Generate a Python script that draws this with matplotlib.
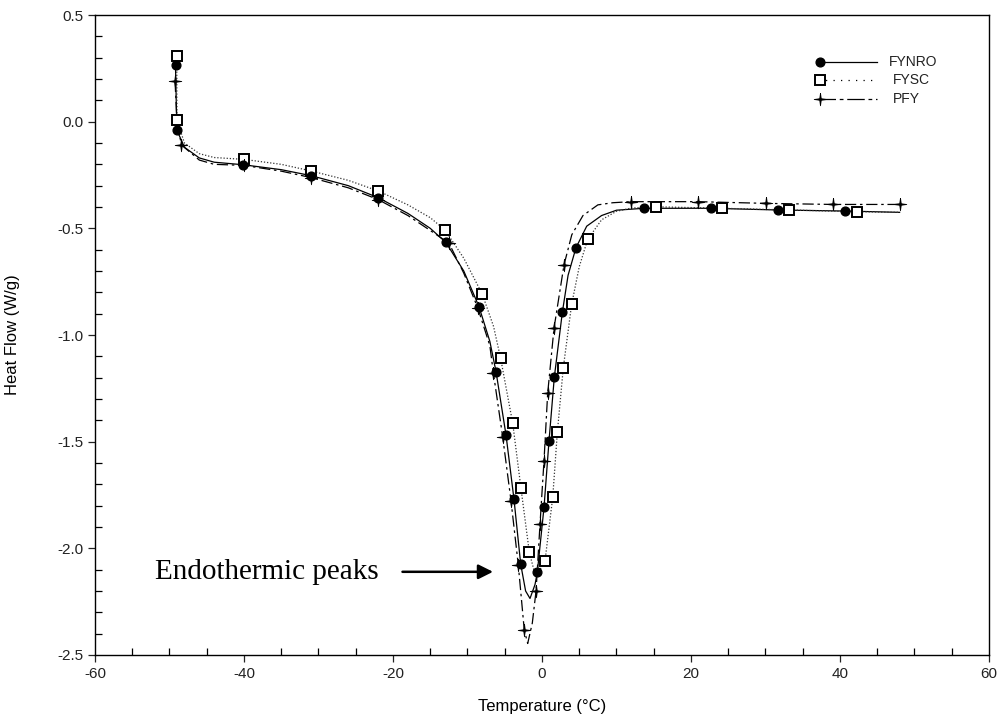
import matplotlib
matplotlib.use("Agg")
import matplotlib.pyplot as plt
from matplotlib.lines import Line2D

plt.rcParams["axes.unicode_minus"] = False

# Curve traces (temperature in degC, heat flow in W/g)
FYNRO_T = [-49.2, -49.1, -49.0, -48.0, -46.0, -44.0, -40.1, -35.0, -31.0, -26.0,
           -22.0, -18.0, -15.0, -12.9, -10.5, -8.46, -7.0, -6.17, -4.83, -3.76,
           -2.86, -2.2, -1.61, -0.94, -0.63, 0.27, 0.94, 1.65, 2.73, 3.5,
           4.56, 6.0, 8.0, 10.0, 13.7, 22.7, 31.7, 40.7, 48.0]
FYNRO_H = [0.27, 0.10, -0.04, -0.12, -0.17, -0.19, -0.202, -0.225, -0.253, -0.30,
           -0.356, -0.43, -0.50, -0.566, -0.70, -0.867, -1.03, -1.172, -1.469, -1.77,
           -2.074, -2.20, -2.235, -2.17, -2.113, -1.808, -1.497, -1.199, -0.894, -0.72,
           -0.591, -0.49, -0.44, -0.415, -0.406, -0.406, -0.414, -0.419, -0.425]

FYSC_T = [-49.03, -49.0, -48.0, -46.0, -44.0, -39.96, -35.0, -31.0, -26.0, -21.97,
          -18.0, -15.0, -13.02, -10.5, -8.01, -6.5, -5.55, -3.93, -2.82, -1.7,
          -1.1, -0.6, 0.4, 1.44, 2.06, 2.86, 3.98, 5.0, 6.13, 8.0,
          10.0, 12.0, 15.26, 24.2, 33.2, 42.23, 48.0]
FYSC_H = [0.308, 0.008, -0.10, -0.15, -0.168, -0.177, -0.20, -0.231, -0.275, -0.325,
          -0.39, -0.45, -0.508, -0.64, -0.809, -0.96, -1.11, -1.414, -1.719, -2.019,
          -2.10, -2.12, -2.06, -1.761, -1.456, -1.153, -0.856, -0.68, -0.552, -0.46,
          -0.42, -0.405, -0.399, -0.406, -0.414, -0.422, -0.425]

PFY_T = [-49.26, -49.0, -48.4, -46.0, -44.0, -40.0, -35.0, -31.0, -26.0, -22.0,
         -18.0, -15.0, -12.48, -10.5, -8.6, -7.0, -6.53, -5.28, -4.16, -3.18,
         -2.38, -1.92, -1.3, -0.8, -0.27, 0.27, 0.76, 1.61, 2.95, 4.0,
         5.5, 7.5, 9.5, 11.9, 21.0, 30.07, 39.0, 48.05]
PFY_H = [0.192, 0.0, -0.109, -0.18, -0.20, -0.205, -0.232, -0.262, -0.31, -0.365,
         -0.44, -0.51, -0.57, -0.71, -0.875, -1.05, -1.177, -1.477, -1.777, -2.079,
         -2.383, -2.446, -2.35, -2.2, -1.888, -1.589, -1.274, -0.969, -0.672, -0.53,
         -0.44, -0.39, -0.38, -0.375, -0.375, -0.383, -0.388, -0.388]

# Marker positions
FYNRO_MT = [-49.13, -49.0, -40.13, -31.0, -21.97, -12.89, -8.46, -6.17, -4.83, -3.76,
            -2.86, -0.63, 0.27, 0.94, 1.65, 2.73, 4.56, 13.7, 22.7, 31.72, 40.67]
FYNRO_MH = [0.266, -0.039, -0.202, -0.253, -0.356, -0.566, -0.867, -1.172, -1.469, -1.77,
            -2.074, -2.113, -1.808, -1.497, -1.199, -0.894, -0.591, -0.406, -0.406, -0.414, -0.419]

FYSC_MT = [-49.03, -49.0, -39.96, -31.0, -21.97, -13.02, -8.01, -5.55, -3.93, -2.82,
           -1.7, 0.4, 1.44, 2.06, 2.86, 3.98, 6.13, 15.26, 24.2, 33.2, 42.23]
FYSC_MH = [0.308, 0.008, -0.177, -0.231, -0.325, -0.508, -0.809, -1.11, -1.414, -1.719,
           -2.019, -2.06, -1.761, -1.456, -1.153, -0.856, -0.552, -0.399, -0.406, -0.414, -0.422]

PFY_MT = [-49.26, -48.4, -40.0, -31.0, -22.0, -12.48, -8.6, -6.53, -5.28, -4.16,
          -3.18, -2.38, -0.8, -0.27, 0.27, 0.76, 1.61, 2.95, 11.9, 21.0, 30.07, 39.0, 48.05]
PFY_MH = [0.192, -0.109, -0.205, -0.262, -0.365, -0.57, -0.875, -1.177, -1.477, -1.777,
          -2.079, -2.383, -2.2, -1.888, -1.589, -1.274, -0.969, -0.672, -0.375, -0.375, -0.383, -0.388, -0.388]

FONT = "Liberation Sans"
# thin four-pointed star, like the PFY marker
STAR = [(0, 1), (0.12, 0.12), (1, 0), (0.12, -0.12), (0, -1), (-0.12, -0.12), (-1, 0), (-0.12, 0.12), (0, 1)]

fig = plt.figure(figsize=(10.03, 7.17), dpi=100)
ax = fig.add_axes([95 / 1003, 1 - 655 / 717, 894 / 1003, 640 / 717])

ax.plot(FYNRO_T, FYNRO_H, color="black", lw=0.9, ls="-", zorder=2)
ax.plot(FYSC_T, FYSC_H, color="#333333", lw=0.9, ls=(0, (1, 1.5)), zorder=2)
ax.plot(PFY_T, PFY_H, color="black", lw=0.9, ls=(0, (9, 3, 2, 3)), zorder=2)

ax.plot(FYNRO_MT, FYNRO_MH, ls="none", marker="o", ms=6.3, color="black", zorder=4)
ax.plot(FYSC_MT, FYSC_MH, ls="none", marker="s", ms=7, mfc="white", mec="black", mew=1.4, zorder=3)
ax.plot(PFY_MT, PFY_MH, ls="none", marker=STAR, ms=9, color="black", mew=0.6, zorder=5)

ax.set_xlim(-60, 60)
ax.set_ylim(-2.5, 0.5)
ax.set_xticks([-60, -40, -20, 0, 20, 40, 60])
ax.set_yticks([0.5, 0.0, -0.5, -1.0, -1.5, -2.0, -2.5])
ax.set_yticklabels(["0.5", "0.0", "-0.5", "-1.0", "-1.5", "-2.0", "-2.5"])
ax.set_xticks([x for x in range(-55, 60, 5) if x % 20], minor=True)
ax.set_yticks([v / 10 for v in range(-24, 5) if v % 5], minor=True)
ax.tick_params(which="major", direction="out", length=5, width=0.9, labelsize=11,
               colors="#222222", left=True, bottom=True, top=False, right=False)
ax.tick_params(which="minor", direction="in", length=5, width=0.9,
               left=True, bottom=True, top=False, right=False)
for lab in ax.get_xticklabels() + ax.get_yticklabels():
    lab.set_fontfamily(FONT)
for sp in ax.spines.values():
    sp.set_linewidth(1.0)

ax.set_xlabel("Temperature (°C)", fontsize=12, fontfamily=FONT, labelpad=13)
ax.set_ylabel("Heat Flow (W/g)", fontsize=12, fontfamily=FONT)
ax.yaxis.set_label_coords(-0.084, 0.5)

# Legend drawn by hand: marker at the left end of each sample line
rows = [("FYNRO", "-", "o", dict(color="black", ms=6.3), 0.927, 0.888),
        ("FYSC", (0, (1, 5)), "s", dict(mfc="white", mec="black", mew=1.4, ms=7), 0.898, 0.892),
        ("PFY", (0, (14, 3, 3, 3)), STAR, dict(color="black", ms=9, mew=0.6), 0.869, 0.892)]
for name, ls, mk, kw, yy, tx in rows:
    ax.add_line(Line2D([0.809, 0.875], [yy, yy], transform=ax.transAxes, color="black",
                       lw=0.9, ls=ls, zorder=6))
    ax.add_line(Line2D([0.811], [yy], transform=ax.transAxes, marker=mk, ls="none", zorder=7, **kw))
    ax.text(tx, yy, name, transform=ax.transAxes, ha="left", va="center",
            fontsize=10, fontfamily=FONT, color="#222222")

ax.annotate("", xy=(-6.2, -2.11), xytext=(-19.1, -2.11),
            arrowprops=dict(arrowstyle="-|>", color="black", lw=1.8, mutation_scale=22))
ax.text(-21.9, -2.11, "Endothermic peaks", ha="right", va="center",
        fontsize=21, fontfamily="Liberation Serif", color="black")

fig.savefig("out.png", dpi=100, facecolor="white")
